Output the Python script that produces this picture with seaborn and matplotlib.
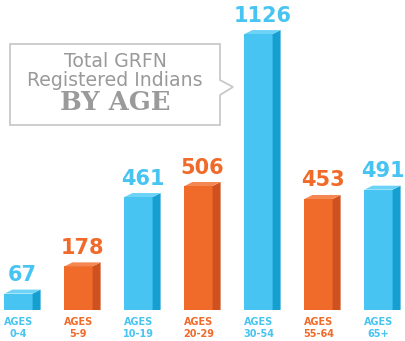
import matplotlib
matplotlib.use("Agg")
import matplotlib.pyplot as plt
import seaborn as sns
import pandas as pd
from matplotlib.patches import Polygon

# ---- data ----
age_groups = ["0-4", "5-9", "10-19", "20-29", "30-54", "55-64", "65+"]
counts = [67, 178, 461, 506, 1126, 453, 491]
tick_labels = ["AGES\n" + g for g in age_groups]
title_lines = ["Total GRFN", "Registered Indians", "BY AGE"]

BLUE, BLUE_SIDE, BLUE_TOP = "#47C4F1", "#179FD2", "#6CD2F6"
ORANGE, ORANGE_SIDE, ORANGE_TOP = "#F06A29", "#CF5120", "#F58852"
front_colors = [BLUE, ORANGE, BLUE, ORANGE, BLUE, ORANGE, BLUE]
side_colors = [BLUE_SIDE if c == BLUE else ORANGE_SIDE for c in front_colors]
top_colors = [BLUE_TOP if c == BLUE else ORANGE_TOP for c in front_colors]

W, H = 405, 341
fig = plt.figure(figsize=(W / 100, H / 100), dpi=100)
base_px = 31
ax = fig.add_axes([0, base_px / H, 1, (H - base_px) / H])

df = pd.DataFrame({"group": tick_labels, "count": counts})
sns.barplot(data=df, x="group", y="count", hue="group", palette=front_colors,
            width=0.47, saturation=1, legend=False, ax=ax, linewidth=0)

ax.set_xlim(-18.5 / 60, (W - 18.5) / 60)
ymax = 1265
ax.set_ylim(0, ymax)
px_per_unit = (H - base_px) / ymax
dx = 8 / 60
dy = 4 / px_per_unit

bars = sorted(ax.patches, key=lambda p: p.get_x())
for i, p in enumerate(bars):
    x0 = p.get_x()
    x1 = x0 + p.get_width()
    h = p.get_height()
    ax.add_patch(Polygon([(x1, 0), (x1, h), (x1 + dx, h + dy), (x1 + dx, 0)],
                         closed=True, facecolor=side_colors[i], edgecolor="none"))
    ax.add_patch(Polygon([(x0, h), (x1, h), (x1 + dx, h + dy), (x0 + dx, h + dy)],
                         closed=True, facecolor=top_colors[i], edgecolor="none"))
    ax.annotate(str(counts[i]), xy=((x0 + x1 + dx) / 2, h), xytext=(0, 9),
                textcoords="offset points", ha="center", va="baseline",
                fontsize=15, fontweight="bold", color=front_colors[i],
                family="DejaVu Sans")

for s in ax.spines.values():
    s.set_visible(False)
ax.set_yticks([])
ax.set_xlabel("")
ax.set_ylabel("")
ax.tick_params(axis="x", length=0, pad=5)
ax.set_xticks(range(len(tick_labels)))
ax.set_xticklabels(tick_labels, fontsize=7, fontweight="bold", linespacing=1.25)
for lbl, c in zip(ax.get_xticklabels(), front_colors):
    lbl.set_color(c)
ax.patch.set_alpha(0)

# ---- callout box (figure pixel coords, from top) ----
def fp(x, y):
    return (x / W, 1 - y / H)

box = [fp(10, 44), fp(220, 44), fp(220, 80), fp(233, 87), fp(220, 95),
       fp(220, 125), fp(10, 125)]
fig.patches.append(Polygon(box, closed=True, facecolor="white",
                           edgecolor="#c9c9c9", linewidth=1.3,
                           transform=fig.transFigure, zorder=0))
gray = "#9a9a9a"
fig.text(*fp(115, 71), title_lines[0] + "\n" + title_lines[1], ha="center",
         va="center", fontsize=13.6, color=gray, family="DejaVu Sans",
         linespacing=0.95, multialignment="center")
fig.text(*fp(115, 103), title_lines[2], ha="center", va="center",
         fontsize=18.5, color=gray, family="DejaVu Serif", fontweight="bold")

fig.savefig("out.png", dpi=100, facecolor="white")
